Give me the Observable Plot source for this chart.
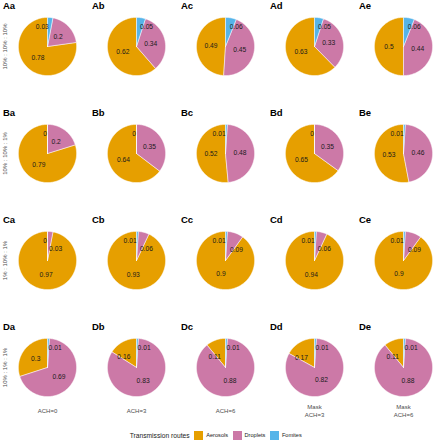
<!DOCTYPE html>
<html><head><meta charset="utf-8">
<script src="https://cdn.jsdelivr.net/npm/d3@7"></script>
<script src="https://cdn.jsdelivr.net/npm/@observablehq/plot@0.6"></script>
<style>
body{margin:0;background:#fff;font-family:"Liberation Sans",Arial,sans-serif;}
#legend{display:flex;justify-content:center;align-items:center;height:14px;margin-top:2px;color:#1a1a1a;white-space:nowrap}
#legend .ttl{font-size:6.7px;margin-right:4.6px}
#legend .key{width:9px;height:9px;display:inline-block;margin-right:3px}
#legend .lab{font-size:5.6px;margin-right:4.5px}
</style></head><body><div id="chart"></div><div id="legend"></div>
<script>
const rows = ["A", "B", "C", "D"];
const cols = ["a", "b", "c", "d", "e"];
const rowLabels = ["10% : 10% : 10%", "10% : 10% : 1%", "1% : 10% : 1%", "10% : 1% : 1%"];
const colLabels = ["ACH=0", "ACH=3", "ACH=6", "Mask\nACH=3", "Mask\nACH=6"];
const routes = ["Aerosols", "Droplets", "Fomites"];
const routeColors = ["#E69F00", "#CC79A7", "#56B4E9"];
const aerosols = [
  [0.78, 0.62, 0.49, 0.63, 0.5],
  [0.79, 0.64, 0.52, 0.65, 0.53],
  [0.97, 0.93, 0.9, 0.94, 0.9],
  [0.3, 0.16, 0.11, 0.17, 0.11]
];
const droplets = [
  [0.2, 0.34, 0.45, 0.33, 0.44],
  [0.2, 0.35, 0.48, 0.35, 0.46],
  [0.03, 0.06, 0.09, 0.06, 0.09],
  [0.69, 0.83, 0.88, 0.82, 0.88]
];
const fomites = [
  [0.03, 0.05, 0.06, 0.05, 0.06],
  [0, 0, 0.01, 0, 0.01],
  [0, 0.01, 0.01, 0.01, 0.01],
  [0.01, 0.01, 0.01, 0.01, 0.01]
];

const color = d3.scaleOrdinal(routes, routeColors);
const pies = [], slicePts = [], labels = [];
rows.forEach((r, i) => cols.forEach((c, j) => {
  pies.push({row: r, col: c, i, j});
  const byRoute = {Aerosols: aerosols[i][j], Droplets: droplets[i][j], Fomites: fomites[i][j]};
  const order = ["Fomites", "Droplets", "Aerosols"];
  const arcs = d3.pie().sort(null).value(d => byRoute[d])(order);
  arcs.forEach(a => {
    const key = r + c + a.data;
    const pts = [{x: 0, y: 0}];
    const n = Math.max(2, Math.ceil((a.endAngle - a.startAngle) / (Math.PI / 90)));
    for (let k = 0; k <= n; k++) {
      const t = a.startAngle + (a.endAngle - a.startAngle) * k / n;
      pts.push({x: Math.sin(t), y: Math.cos(t)});
    }
    pts.push({x: 0, y: 0});
    pts.forEach(p => slicePts.push({...p, key, route: a.data, row: r, col: c}));
    const mid = (a.startAngle + a.endAngle) / 2;
    const v = byRoute[a.data];
    let rad = 0.5, anchor = "middle";
    if (a.data === "Fomites") {
      rad = 0.68;
      anchor = (v >= 0.05 || byRoute.Aerosols < 0.4) ? "start" : "end";
    } else if (v < 0.2) {
      rad = 0.4;
      anchor = Math.sin(mid) > 0 ? "start" : "end";
    }
    labels.push({x: rad * Math.sin(mid), y: rad * Math.cos(mid), text: String(v), anchor, row: r, col: c});
  });
}));

const fs = {fontFamily: "'Liberation Sans', Arial, sans-serif"};
const labelMarks = ["start", "middle", "end"].map(an =>
  Plot.text(labels.filter(d => d.anchor === an), {
    x: "x", y: "y", text: "text", fx: "col", fy: "row",
    textAnchor: an, dx: an === "start" ? 0.5 : an === "end" ? -0.5 : 0,
    fontSize: 6.7, fill: "#1a1a1a"
  })
);

const chart = Plot.plot({
  width: 436,
  height: 426,
  marginLeft: 14.7,
  marginRight: 0.9,
  marginTop: 13,
  marginBottom: 27.2,
  style: {background: "#fff", ...fs},
  x: {domain: [-1.1, 1.1], axis: null},
  y: {domain: [-1.1, 1.1], axis: null},
  fx: {domain: cols, paddingInner: 0.282, paddingOuter: 0, axis: null},
  fy: {domain: rows, paddingInner: 0.4045, paddingOuter: 0, axis: null},
  marks: [
    ...routes.map(rt => Plot.line(slicePts.filter(d => d.route === rt), {
      x: "x", y: "y", z: "key", fx: "col", fy: "row",
      fill: color(rt), stroke: "white", strokeWidth: 0.5, curve: "linear"
    })),
    ...labelMarks,
    Plot.text(pies, {
      fx: "col", fy: "row", frameAnchor: "top-left", text: d => d.row + d.col,
      dx: -12.5, dy: -9, lineAnchor: "middle", textAnchor: "start",
      fontWeight: "bold", fontSize: 9.5, fill: "#000"
    }),
    Plot.text(pies.filter(d => d.col === "a"), {
      fx: "col", fy: "row", frameAnchor: "left", text: d => rowLabels[d.i],
      rotate: -90, dx: -10.7, textAnchor: "middle", lineAnchor: "middle",
      fontSize: 6, fill: "#4d4d4d"
    }),
    Plot.text(pies.filter(d => d.row === "D"), {
      fx: "col", fy: "row", frameAnchor: "bottom", text: d => colLabels[d.j],
      dy: 11, lineAnchor: "middle", textAnchor: "middle", lineHeight: 1.33,
      fontSize: 6, fill: "#4d4d4d"
    })
  ]
});
document.getElementById("chart").appendChild(chart);

const leg = document.getElementById("legend");
const t = document.createElement("span"); t.className = "ttl"; t.textContent = "Transmission routes"; leg.appendChild(t);
routes.forEach(rt => {
  const k = document.createElement("span"); k.className = "key"; k.style.background = color(rt); leg.appendChild(k);
  const l = document.createElement("span"); l.className = "lab"; l.textContent = rt; leg.appendChild(l);
});
</script></body></html>
